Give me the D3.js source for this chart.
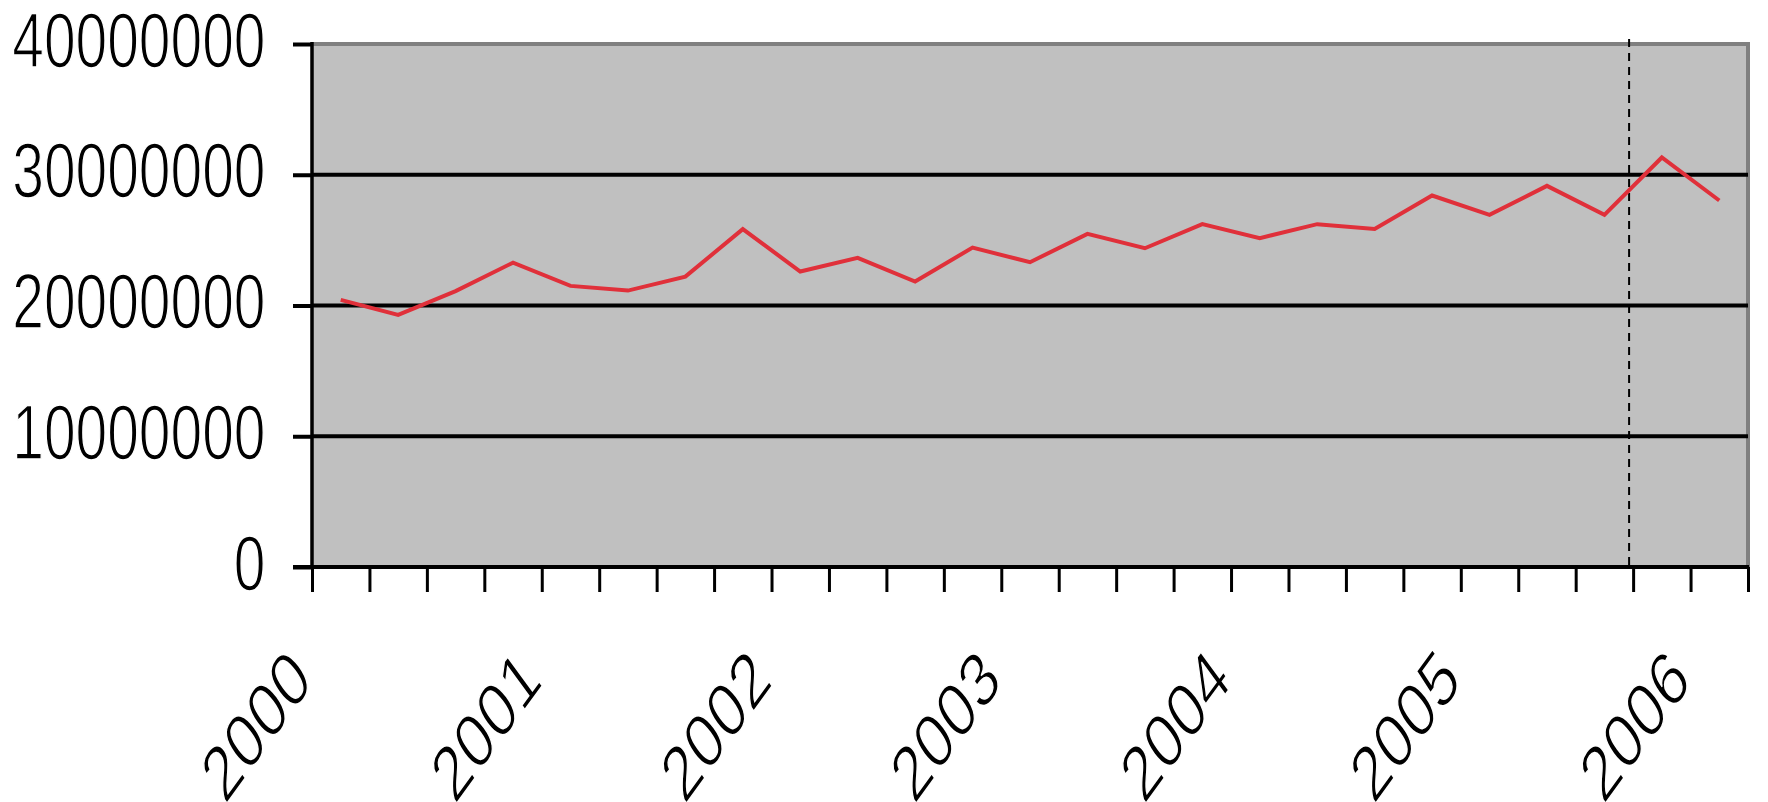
<!DOCTYPE html>
<html>
<head>
<meta charset="utf-8">
<script src="https://cdn.jsdelivr.net/npm/d3@7"></script>
<style>
  html, body { margin: 0; padding: 0; background: #ffffff; }
  svg { display: block; }
  text { font-family: "Liberation Sans", Arial, sans-serif; fill: #000; }
</style>
</head>
<body>
<svg id="chart" width="1768" height="802"></svg>
<script>
// Quarterly totals, 2000 Q1 .. 2006 Q1
const quarters = [
  "2000 Q1","2000 Q2","2000 Q3","2000 Q4",
  "2001 Q1","2001 Q2","2001 Q3","2001 Q4",
  "2002 Q1","2002 Q2","2002 Q3","2002 Q4",
  "2003 Q1","2003 Q2","2003 Q3","2003 Q4",
  "2004 Q1","2004 Q2","2004 Q3","2004 Q4",
  "2005 Q1","2005 Q2","2005 Q3","2005 Q4",
  "2006 Q1"
];
const values = [
  20430000, 19280000, 21100000, 23280000,
  21500000, 21140000, 22210000, 25840000,
  22600000, 23640000, 21830000, 24430000,
  23310000, 25480000, 24380000, 26220000,
  25150000, 26220000, 25860000, 28410000,
  26930000, 29150000, 26930000, 31320000,
  28030000
];
const yearLabels = ["2000","2001","2002","2003","2004","2005","2006"];
const yTicks = [0, 10000000, 20000000, 30000000, 40000000];
const markerBoundary = 22.93; // dashed divider, in category units

(function draw() {
  const svg = d3.select("#chart");
  const plotLeft = 312, plotRight = 1748, plotTop = 44, plotBottom = 567;
  const sx = 0.73;         // horizontal squeeze applied to all text
  const fontSize = 78;

  // x: category boundaries 0..n, points sit at i + 0.5
  const x = d3.scaleLinear().domain([0, quarters.length]).range([plotLeft, plotRight]);
  const y = d3.scaleLinear().domain([0, 40000000]).range([plotBottom, plotTop]);

  // plot area
  svg.append("rect")
    .attr("x", plotLeft).attr("y", plotTop)
    .attr("width", plotRight - plotLeft).attr("height", plotBottom - plotTop)
    .attr("fill", "#c0c0c0");

  // top and right frame
  svg.append("path")
    .attr("d", `M${plotLeft},${plotTop}H${plotRight}V${plotBottom}`)
    .attr("fill", "none").attr("stroke", "#808080").attr("stroke-width", 4);

  // horizontal gridlines
  svg.append("g").selectAll("line")
    .data(yTicks.filter(d => d > 0 && d < 40000000))
    .join("line")
    .attr("x1", plotLeft).attr("x2", plotRight)
    .attr("y1", d => y(d)).attr("y2", d => y(d))
    .attr("stroke", "#000").attr("stroke-width", 4);

  // dashed divider
  svg.append("line")
    .attr("x1", x(markerBoundary)).attr("x2", x(markerBoundary))
    .attr("y1", plotTop - 5).attr("y2", plotBottom)
    .attr("stroke", "#000").attr("stroke-width", 2)
    .attr("stroke-dasharray", "8,6");

  // series line
  const line = d3.line()
    .x((d, i) => x(i + 0.5))
    .y(d => y(d));
  svg.append("path")
    .datum(values)
    .attr("d", line)
    .attr("fill", "none")
    .attr("stroke", "#e0303a")
    .attr("stroke-width", 4)
    .attr("stroke-linejoin", "miter");

  // y axis
  const yAxis = d3.axisLeft(y).tickValues(yTicks).tickSize(19).tickFormat("");
  const gy = svg.append("g").attr("transform", `translate(${plotLeft},0)`).call(yAxis);
  gy.select(".domain").remove();
  gy.selectAll(".tick line").attr("stroke", "#000").attr("stroke-width", 4);
  svg.append("line")
    .attr("x1", plotLeft).attr("x2", plotLeft).attr("y1", plotTop - 2).attr("y2", plotBottom + 2)
    .attr("stroke", "#000").attr("stroke-width", 3.5);

  // light outline keeps the condensed glyph strokes thin
  const label = sel => sel
    .attr("text-anchor", "end")
    .attr("font-size", fontSize)
    .attr("stroke", "#fff")
    .attr("stroke-width", 1.6)
    .attr("paint-order", "fill");

  svg.append("g").selectAll("g")
    .data(yTicks)
    .join("g")
    .attr("transform", d => `translate(265.5,${y(d) + 22.5}) scale(${sx},1)`)
    .append("text")
    .call(label)
    .text(d => d3.format("d")(d));

  // x axis
  const xAxis = d3.axisBottom(x).tickValues(d3.range(0, quarters.length + 1)).tickSize(25).tickFormat("");
  const gx = svg.append("g").attr("transform", `translate(0,${plotBottom})`).call(xAxis);
  gx.select(".domain").remove();
  gx.selectAll(".tick line").attr("stroke", "#000").attr("stroke-width", 3);
  svg.append("line")
    .attr("x1", plotLeft - 19).attr("x2", plotRight + 1).attr("y1", plotBottom).attr("y2", plotBottom)
    .attr("stroke", "#000").attr("stroke-width", 4);

  // year labels every fourth category boundary
  svg.append("g").selectAll("g")
    .data(yearLabels)
    .join("g")
    .attr("transform", (d, i) => `translate(${x(i * 4) + 2.5},683) scale(${sx},1) rotate(-45)`)
    .append("text")
    .call(label)
    .text(d => d);
})();
</script>
</body>
</html>
